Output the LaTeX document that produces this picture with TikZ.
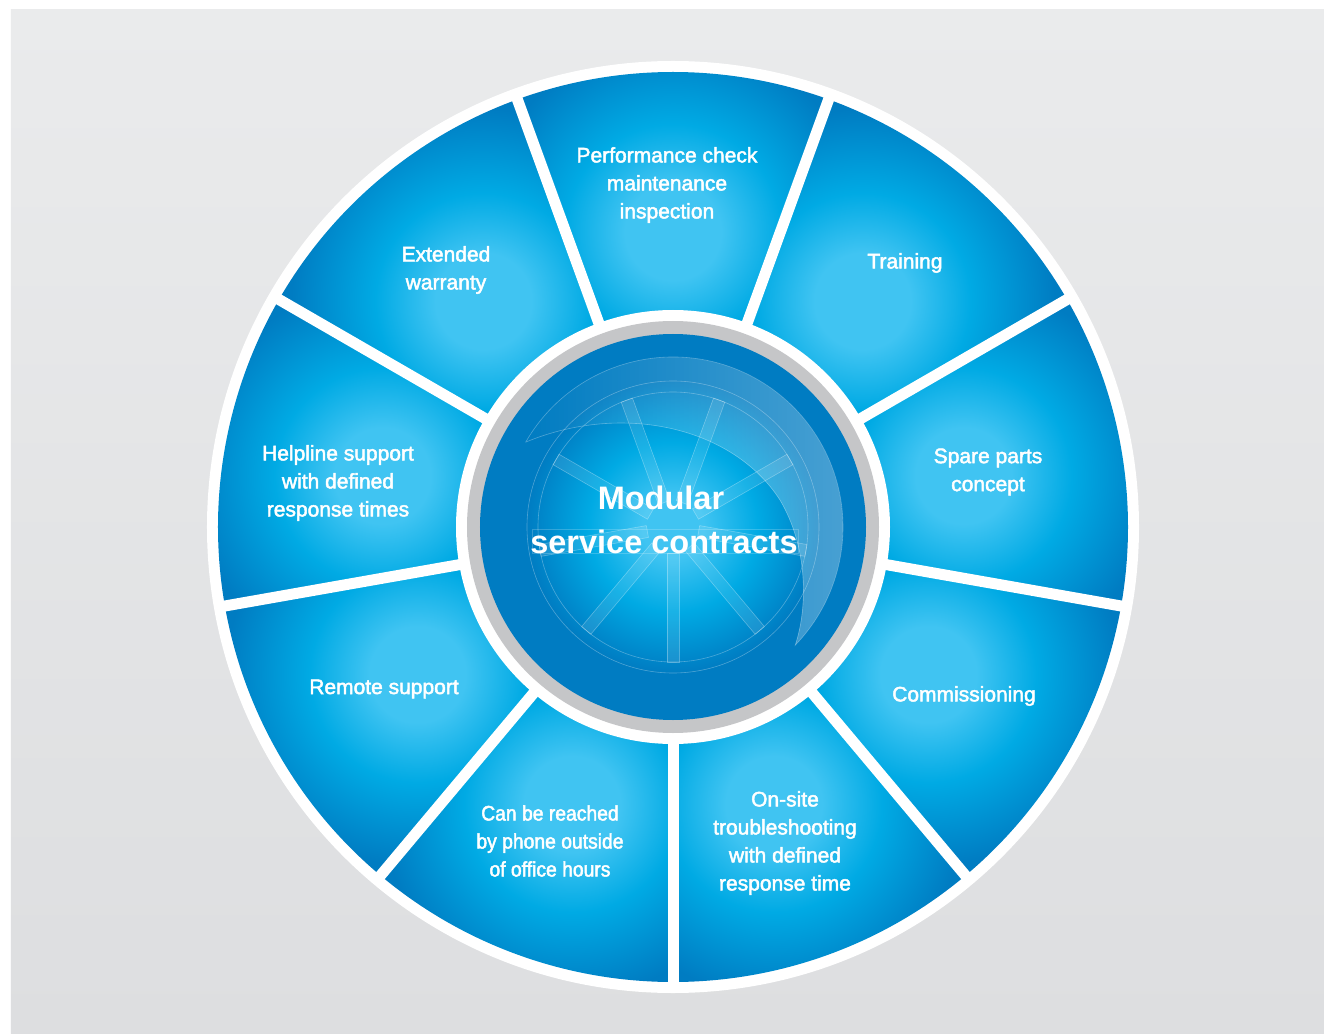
\documentclass[tikz,border=0pt]{standalone}
\usepackage{fontspec}
\setmainfont{Liberation Sans}
\newfontfamily\labelfont{Liberation Sans}[FakeBold=2.2]
\newfontfamily\narrowfont{Liberation Sans}[FakeStretch=0.92, FakeBold=2.2]
\usepackage{tikz}
\usetikzlibrary{fadings}
\usepackage{xcolor}

\definecolor{bgtop}{RGB}{234,235,236}
\definecolor{bgbottom}{RGB}{221,222,224}
\definecolor{seglight}{RGB}{64,196,242}
\definecolor{segmid}{RGB}{0,170,228}
\definecolor{segdark}{RGB}{0,124,194}
\definecolor{segdeep}{RGB}{0,116,186}
\definecolor{ringgrey}{RGB}{197,198,200}

% the inner 25bp of a shading is what meets the circle's rim
\pgfdeclareradialshading{segglow}{\pgfpoint{0bp}{0bp}}{%
  color(0bp)=(seglight); color(4bp)=(seglight); color(9bp)=(segmid);
  color(16bp)=(segdark); color(25bp)=(segdeep); color(50bp)=(segdeep)}
\pgfdeclareradialshading{hubglow}{\pgfpoint{0bp}{0bp}}{%
  color(0bp)=(seglight); color(4bp)=(seglight); color(11bp)=(segmid);
  color(19bp)=(segdark); color(25bp)=(segdark); color(50bp)=(segdark)}
\tikzfading[name=swooshfade, left color=transparent!100, right color=transparent!30]

\tikzset{
  seglabel/.style={text=white, align=center, font=\labelfont\fontsize{21}{28}\selectfont},
  hublabel/.style={text=white, anchor=base, font=\bfseries\fontsize{32.5}{43}\selectfont},
  hubline/.style={white, opacity=0.3, line width=0.6pt},
}

\begin{document}
\begin{tikzpicture}[x=1pt,y=1pt]
	\useasboundingbox (-673,-506) rectangle (651,527);
	\fill[white] (-673,-506) rectangle (651,527);

	% Background
	\shade[top color=bgtop, bottom color=bgbottom] (-662,-506) rectangle (651,517);

	% Segments
	\fill[white] (0,0) circle (466);
	\foreach \a in {70,30,...,-250} {
		\begin{scope}
			\clip (\a:216) arc[start angle=\a, end angle=\a+40, radius=216]
				-- ({\a+40}:455) arc[start angle=\a+40, end angle=\a, radius=455] -- cycle;
			\shade[shading=segglow] ({\a+20}:295) circle (300);
		\end{scope}
	}
	\foreach \a in {70,30,...,-250} {
		\draw[white, line width=11pt] (\a:200) -- (\a:460);
	}

	% Hub
	\fill[white] (0,0) circle (217);
	\fill[ringgrey] (0,0) circle (206);
	\shade[shading=hubglow] (0,0) circle (193);
	\draw[hubline] (0,0) circle (135) (0,0) circle (146);
	\foreach \a in {70,30,...,-250} {
		\fill[white, opacity=0.1, rotate=\a] (26,-6) rectangle (135,6);
		\draw[hubline, rotate=\a] (26,-6) rectangle (135,6);
	}

	% Swoosh
	\fill[white, path fading=swooshfade, fill opacity=0.4]
		(150:170) arc[start angle=150, end angle=-44, radius=170]
		.. controls (135,-80) and (135,-20) .. (107,27)
		.. controls (60,100) and (-50,125) .. (-147,85) -- cycle;
	\draw[hubline]
		(150:170) arc[start angle=150, end angle=-44, radius=170]
		.. controls (135,-80) and (135,-20) .. (107,27)
		.. controls (60,100) and (-50,125) .. (-147,85) -- cycle;
	\draw[hubline, opacity=0.2] (-141,-2) rectangle (125,-26);

	% Labels
	\node[hublabel] (modular) at (-12,17) {Modular};
	\node[hublabel] (contracts) at (-9,-26) {service contracts};

	\node[seglabel] (perf) at (-6,342) {Performance check\\maintenance\\inspection};
	\node[seglabel] (training) at (232,264) {Training};
	\node[seglabel] (spare) at (315,55) {Spare parts\\concept};
	\node[seglabel] (commissioning) at (291,-169) {Commissioning};
	\node[seglabel] (onsite) at (112,-316) {On-site\\troubleshooting\\with defined\\response time};
	\node[seglabel, font=\narrowfont\fontsize{21}{28}\selectfont] (reach) at (-123,-314) {Can be reached\\by phone outside\\of office hours};
	\node[seglabel] (remote) at (-289,-162) {Remote support};
	\node[seglabel] (helpline) at (-335,44) {Helpline support\\with defined\\response times};
	\node[seglabel] (warranty) at (-227,257) {Extended\\warranty};
\end{tikzpicture}
\end{document}
